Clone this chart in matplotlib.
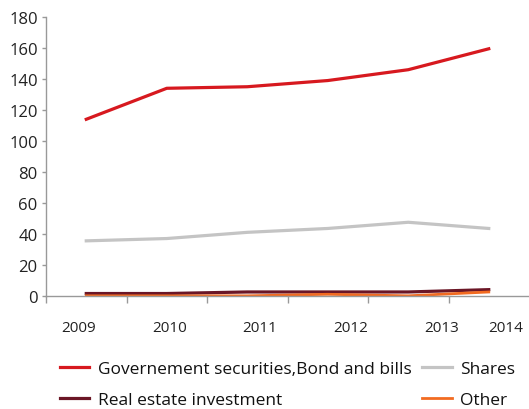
import matplotlib
matplotlib.use("Agg")
import matplotlib.pyplot as plt

plt.rcParams['font.family'] = ['Open Sans', 'DejaVu Sans']

years = ["2009", "2010", "2011", "2012", "2013", "2014"]
govt = [114, 134, 135, 139, 146, 159.5]
shares = [35.5, 37, 41, 43.5, 47.5, 43.5]
real_estate = [1.5, 1.5, 2.5, 2.5, 2.5, 4]
other = [0, 0, 0, 1, 0, 2.5]

# the year labels in the original sit a bit off the category centres
label_pos = [-0.1, 1.03, 2.15, 3.28, 4.41, 5.21]

fig = plt.figure(figsize=(5.29, 4.10), dpi=100)
ax = fig.add_axes([0.087, 0.276, 0.913, 0.68])

x = list(range(len(years)))
l1, = ax.plot(x, govt, color="#d7191f", lw=2.3, label="Governement securities,Bond and bills")
l3, = ax.plot(x, shares, color="#c4c4c4", lw=2.3, label="Shares")
l2, = ax.plot(x, real_estate, color="#6b1626", lw=2.3, label="Real estate investment")
l4, = ax.plot(x, other, color="#f26b21", lw=2.0, label="Other")

ax.set_xlim(-0.5, 5.5)
ax.set_ylim(0, 180)
ax.set_yticks(range(0, 181, 20))
ax.set_xticks([i - 0.5 for i in range(6)])
ax.set_xticklabels([])

for s in ["top", "right"]:
    ax.spines[s].set_visible(False)
for s in ["left", "bottom"]:
    ax.spines[s].set_color("#999999")
    ax.spines[s].set_linewidth(1.0)
ax.tick_params(axis="x", length=5, color="#999999", width=1)
ax.tick_params(axis="y", length=3, color="#999999", width=1, labelsize=12, labelcolor="#222222", pad=3)

for lp, yr in zip(label_pos, years):
    ax.text(lp, -20.5, yr, ha="center", va="center", fontsize=11, color="#222222",
            clip_on=False)

fig.legend([l1, l2, l3, l4],
           ["Governement securities,Bond and bills", "Real estate investment", "Shares", "Other"],
           ncol=2, loc="upper left", bbox_to_anchor=(0.113, 0.118), frameon=False,
           fontsize=12.5, handlelength=1.7, handletextpad=0.5, columnspacing=0.6,
           labelspacing=0.85, borderaxespad=0, borderpad=0, labelcolor="#111111")

fig.savefig("out.png", dpi=100)
